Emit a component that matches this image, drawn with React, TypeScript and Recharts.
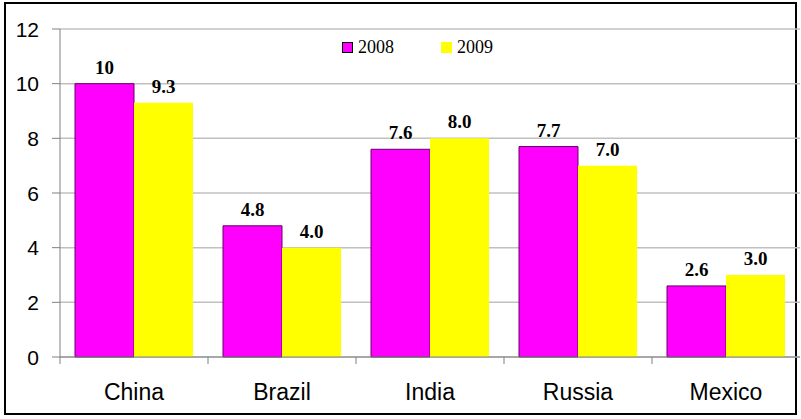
import { BarChart, Bar, XAxis, YAxis, CartesianGrid, LabelList } from "recharts";

const countries = ["China", "Brazil", "India", "Russia", "Mexico"];
const values2008 = [10, 4.8, 7.6, 7.7, 2.6];
const values2009 = [9.3, 4.0, 8.0, 7.0, 3.0];
const yTicks = [0, 2, 4, 6, 8, 10, 12];

const data = countries.map((country, i) => ({
  country,
  y2008: values2008[i],
  y2009: values2009[i],
}));

const W = 801;
const H = 419;
const margin = { top: 29, right: 1, left: 0, bottom: 0 };
const yAxisWidth = 60;
const bandWidth = (W - margin.left - margin.right - yAxisWidth) / countries.length;

const fmt = (v: number) => (v >= 10 ? String(v) : v.toFixed(1));

function CountryTick(props: any) {
  const { x, y, payload } = props;
  const left = x - bandWidth / 2;
  return (
    <g>
      <line x1={left} y1={y} x2={left} y2={y + 7} stroke="#808080" />
      <text
        x={x}
        y={y + 43}
        textAnchor="middle"
        fontFamily="'Liberation Sans', Arial, sans-serif"
        fontSize={23}
        fill="#000"
      >
        {payload.value}
      </text>
    </g>
  );
}

function ValueTick(props: any) {
  const { x, y, payload } = props;
  return (
    <text
      x={x}
      y={y}
      dy="0.36em"
      textAnchor="end"
      fontFamily="'Liberation Sans', Arial, sans-serif"
      fontSize={21}
      fill="#000"
    >
      {payload.value}
    </text>
  );
}

function LegendBox() {
  const items = [
    { label: "2008", fill: "#FF00FF", border: "1px solid #000" },
    { label: "2009", fill: "#FFFF00", border: "1px solid #FFFF00" },
  ];
  return (
    <div
      style={{
        position: "absolute",
        left: 342,
        top: 36,
        display: "flex",
        fontFamily: "'Liberation Serif', 'Times New Roman', serif",
        fontSize: 18,
        lineHeight: "22px",
      }}
    >
      {items.map((it, i) => (
        <div key={it.label} style={{ display: "flex", alignItems: "center", marginRight: i === 0 ? 47 : 0 }}>
          <div style={{ width: 9, height: 9, background: it.fill, border: it.border, marginRight: 5 }} />
          <span>{it.label}</span>
        </div>
      ))}
    </div>
  );
}

export default function App() {
  return (
    <div style={{ position: "absolute", left: 0, top: 0, width: W, height: H, background: "#fff" }}>
      <div
        style={{
          position: "absolute",
          left: 4,
          top: 2,
          width: 793,
          height: 413,
          border: "2px solid #000",
          boxSizing: "border-box",
        }}
      />
      <div style={{ position: "absolute", left: 0, top: 0 }}>
        <BarChart
          width={W}
          height={H}
          data={data}
          margin={margin}
          barCategoryGap={15}
          barGap={0}
        >
          <CartesianGrid horizontal vertical={false} stroke="#c0c0c0" strokeWidth={1.5} />
          <XAxis
            dataKey="country"
            height={62}
            axisLine={{ stroke: "#808080" }}
            tickLine={false}
            tickSize={0}
            tickMargin={0}
            tick={<CountryTick />}
            interval={0}
          />
          <YAxis
            width={yAxisWidth}
            domain={[0, 12]}
            ticks={yTicks}
            interval={0}
            axisLine={{ stroke: "#808080" }}
            tickLine={{ stroke: "#808080" }}
            tickSize={8}
            tickMargin={13}
            tick={<ValueTick />}
          />
          <Bar dataKey="y2008" fill="#FF00FF" stroke="#660066" strokeWidth={1} isAnimationActive={false}>
            <LabelList
              dataKey="y2008"
              position="top"
              offset={10}
              formatter={fmt}
              style={{ fontFamily: "'Liberation Serif', 'Times New Roman', serif", fontWeight: "bold", fontSize: 19, fill: "#000" }}
            />
          </Bar>
          <Bar dataKey="y2009" fill="#FFFF00" isAnimationActive={false}>
            <LabelList
              dataKey="y2009"
              position="top"
              offset={10}
              formatter={fmt}
              style={{ fontFamily: "'Liberation Serif', 'Times New Roman', serif", fontWeight: "bold", fontSize: 19, fill: "#000" }}
            />
          </Bar>
        </BarChart>
      </div>
      <LegendBox />
    </div>
  );
}
